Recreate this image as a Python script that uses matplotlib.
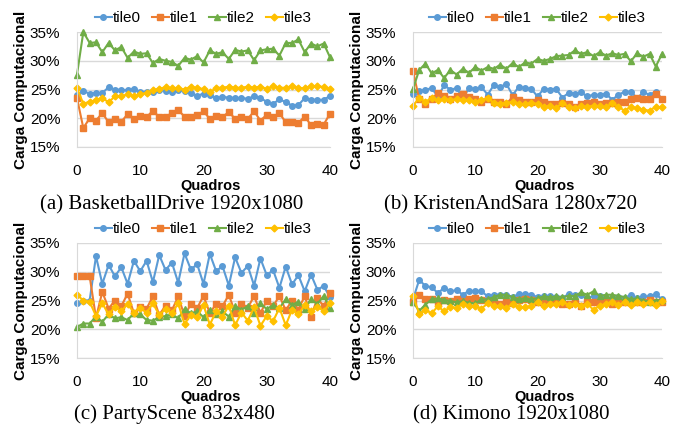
import matplotlib
matplotlib.use("Agg")
import matplotlib.pyplot as plt
from matplotlib.ticker import FuncFormatter

frames = list(range(41))
series_names = ["tile0", "tile1", "tile2", "tile3"]

# (a) BasketballDrive
bd_tile0 = [24.0, 24.7, 24.3, 24.4, 24.4, 25.4, 25.0, 24.9, 24.9, 25.1, 24.6, 24.6, 24.5, 24.9, 24.8,
            24.6, 24.9, 24.7, 24.4, 23.9, 24.3, 24.0, 23.5, 23.7, 23.6, 23.5, 23.5, 23.4, 23.8, 23.6,
            22.8, 22.5, 23.3, 22.8, 22.2, 22.3, 23.5, 23.2, 23.2, 23.2, 23.9]
bd_tile1 = [23.5, 18.3, 20.0, 19.6, 20.9, 19.3, 19.8, 19.4, 20.7, 19.9, 20.4, 20.2, 21.3, 20.2, 20.2,
            20.9, 21.4, 20.3, 20.3, 20.6, 21.2, 19.9, 20.4, 20.2, 21.1, 19.9, 20.3, 19.9, 21.2, 19.6,
            20.6, 20.2, 20.9, 19.3, 19.3, 19.2, 20.3, 18.8, 19.0, 18.9, 20.8]
bd_tile2 = [27.6, 35.0, 33.1, 33.2, 31.5, 33.1, 31.8, 32.4, 30.5, 31.6, 31.2, 31.3, 29.6, 30.3, 30.0,
            29.8, 29.1, 30.5, 30.2, 30.8, 29.7, 31.8, 31.2, 31.5, 30.3, 31.9, 31.6, 31.8, 30.1, 31.8,
            32.0, 32.1, 30.9, 33.1, 33.1, 33.7, 31.5, 33.0, 32.5, 33.0, 30.6]
bd_tile3 = [25.3, 22.5, 22.9, 23.1, 23.5, 22.8, 23.8, 23.8, 24.2, 23.8, 24.2, 24.4, 24.9, 25.1, 25.4,
            25.2, 25.2, 25.0, 25.5, 25.2, 25.1, 24.5, 25.3, 25.3, 25.5, 25.3, 25.3, 25.5, 25.3, 25.5,
            25.1, 25.6, 25.3, 25.3, 25.6, 25.3, 25.2, 25.6, 25.6, 25.4, 25.1]

# (b) KristenAndSara
ks_tile0 = [24.3, 24.7, 25.0, 25.2, 23.8, 25.7, 25.0, 25.2, 23.6, 25.2, 25.1, 25.4, 24.1, 25.8, 25.4,
            26.0, 24.0, 25.5, 25.2, 25.1, 23.8, 25.1, 25.0, 25.1, 23.6, 24.4, 24.3, 24.5, 23.8, 24.1,
            24.0, 24.3, 23.2, 24.1, 24.6, 24.6, 23.5, 24.5, 24.1, 24.6, 23.4]
ks_tile1 = [28.2, 23.3, 22.5, 23.4, 24.4, 23.9, 23.4, 23.9, 24.2, 23.7, 23.3, 22.9, 23.4, 22.8, 22.9,
            22.5, 23.7, 23.2, 22.9, 22.9, 23.2, 22.8, 22.4, 22.4, 22.7, 22.5, 21.9, 22.4, 22.7, 22.8,
            22.5, 22.7, 22.7, 22.8, 22.8, 23.4, 23.6, 23.3, 23.3, 24.3, 23.4]
ks_tile2 = [25.1, 28.4, 29.5, 27.8, 28.4, 27.0, 28.4, 27.6, 28.6, 27.9, 28.9, 28.3, 28.9, 28.6, 29.3,
            28.6, 29.6, 28.9, 29.7, 29.5, 30.3, 30.0, 30.3, 30.8, 30.9, 31.0, 31.8, 31.2, 31.5, 30.8,
            31.5, 30.9, 31.3, 31.0, 31.2, 29.9, 31.3, 30.7, 31.2, 29.0, 31.2]
ks_tile3 = [22.2, 23.5, 22.9, 23.5, 23.1, 23.3, 23.2, 23.3, 23.2, 23.2, 22.9, 23.2, 23.5, 22.7, 22.5,
            22.7, 22.8, 22.5, 22.4, 22.7, 22.5, 22.0, 22.2, 21.8, 22.7, 22.0, 21.8, 22.1, 22.0, 22.2,
            22.1, 21.9, 22.7, 22.0, 21.3, 22.0, 21.7, 21.5, 21.3, 22.0, 21.9]

# (c) PartyScene
ps_tile0 = [24.5, 25.0, 25.0, 32.7, 27.9, 31.2, 29.2, 30.8, 27.9, 31.9, 30.1, 31.9, 28.2, 32.9, 30.3,
            31.6, 28.1, 33.2, 30.4, 31.3, 27.9, 33.1, 30.1, 31.0, 27.6, 32.5, 29.8, 31.0, 27.6, 32.3,
            29.4, 30.3, 27.2, 30.9, 27.8, 29.4, 26.6, 29.5, 26.9, 27.5, 25.6]
ps_tile1 = [29.2, 29.2, 29.2, 22.0, 26.5, 23.6, 25.0, 24.0, 26.2, 22.8, 23.9, 23.6, 25.7, 22.5, 24.1,
            23.3, 25.7, 22.3, 24.4, 23.7, 25.8, 22.8, 24.4, 24.0, 26.0, 22.9, 24.4, 23.7, 25.8, 22.8,
            25.0, 24.0, 25.8, 23.3, 25.0, 23.4, 25.8, 22.2, 25.4, 24.0, 26.3]
ps_tile2 = [20.4, 21.0, 21.0, 22.2, 21.3, 22.6, 21.9, 22.1, 21.6, 22.8, 22.6, 21.6, 21.5, 22.1, 22.3,
            22.6, 21.9, 23.5, 22.8, 23.1, 22.1, 23.3, 22.6, 23.1, 22.2, 24.0, 23.4, 24.0, 22.8, 24.5,
            23.5, 24.2, 23.7, 25.2, 24.2, 24.8, 23.5, 25.2, 24.4, 25.8, 23.7]
ps_tile3 = [26.0, 25.0, 24.8, 22.3, 24.5, 22.6, 23.9, 23.1, 24.4, 22.9, 23.7, 22.9, 24.5, 22.5, 23.5,
            22.8, 24.5, 20.9, 22.5, 22.1, 24.2, 20.8, 23.1, 22.2, 24.1, 20.7, 22.9, 21.5, 23.8, 20.6,
            22.3, 21.4, 23.7, 20.7, 23.4, 22.6, 24.2, 23.1, 23.9, 23.2, 24.5]

# (d) Kimono
ki_tile0 = [25.2, 28.6, 27.5, 27.3, 26.3, 27.2, 26.6, 26.8, 26.0, 26.7, 26.6, 26.6, 25.7, 26.0, 26.0,
            26.0, 25.6, 26.1, 26.1, 26.0, 25.6, 25.7, 25.8, 25.6, 25.5, 26.1, 25.9, 26.0, 25.4, 25.8,
            25.7, 25.5, 25.4, 25.6, 25.4, 26.0, 25.4, 25.7, 25.7, 26.1, 25.2]
ki_tile1 = [24.7, 26.0, 25.3, 25.2, 24.8, 25.1, 25.0, 25.2, 25.0, 25.3, 25.5, 25.1, 25.0, 24.7, 24.4,
            24.7, 24.6, 25.1, 25.2, 25.1, 24.8, 24.9, 24.8, 24.7, 24.4, 24.4, 24.7, 24.1, 24.7, 24.8,
            24.8, 24.7, 24.4, 24.7, 24.8, 24.7, 24.7, 24.8, 25.1, 24.8, 24.7]
ki_tile2 = [24.7, 23.2, 24.3, 25.2, 25.4, 25.1, 24.9, 24.7, 24.9, 24.6, 24.5, 25.2, 25.2, 25.6, 26.0,
            26.0, 25.6, 25.2, 25.4, 25.2, 25.4, 25.7, 25.6, 25.7, 25.6, 25.8, 25.8, 26.4, 26.0, 26.6,
            25.8, 26.0, 26.0, 25.8, 25.6, 25.2, 25.4, 25.0, 24.8, 25.0, 25.1]
ki_tile3 = [25.8, 22.7, 23.3, 22.8, 24.0, 23.1, 23.9, 23.7, 24.4, 24.0, 24.0, 23.6, 24.5, 24.1, 24.0,
            23.7, 24.4, 23.9, 23.8, 24.0, 24.8, 24.1, 24.4, 24.4, 24.8, 24.2, 24.4, 24.0, 24.4, 23.4,
            24.1, 24.4, 24.8, 24.2, 24.7, 24.2, 24.7, 24.4, 24.7, 24.2, 25.0]

panels = [
    ("(a) BasketballDrive 1920x1080", [bd_tile0, bd_tile1, bd_tile2, bd_tile3]),
    ("(b) KristenAndSara 1280x720", [ks_tile0, ks_tile1, ks_tile2, ks_tile3]),
    ("(c) PartyScene 832x480", [ps_tile0, ps_tile1, ps_tile2, ps_tile3]),
    ("(d) Kimono 1920x1080", [ki_tile0, ki_tile1, ki_tile2, ki_tile3]),
]

colors = ["#5B9BD5", "#ED7D31", "#70AD47", "#FFC000"]
markers = ["o", "s", "^", "D"]
msizes = [4, 4, 4.5, 3.5]

plt.rcParams["font.family"] = ["Liberation Sans", "DejaVu Sans"]

W, H = 674, 426
fig = plt.figure(figsize=(W / 100, H / 100), dpi=100)

# axes boxes in pixels: left, top, right, bottom
boxes = [(77, 32, 330, 147), (413, 32, 662, 147), (77, 243, 330, 358), (413, 243, 662, 358)]
caption_pos = [(172, 209), (510, 209), (174, 419), (511, 419)]

for (title, data), (l, t, r, b), (cx, cy) in zip(panels, boxes, caption_pos):
    ax = fig.add_axes([l / W, 1 - b / H, (r - l) / W, (b - t) / H])
    for vals, name, c, m, ms in zip(data, series_names, colors, markers, msizes):
        ax.plot(frames, vals, color=c, marker=m, markersize=ms, linewidth=1.5,
                label=name, clip_on=False)
    ax.set_xlim(0, 40)
    ax.set_ylim(15, 35)
    ax.set_xticks([0, 10, 20, 30, 40])
    ax.set_yticks([15, 20, 25, 30, 35])
    ax.yaxis.set_major_formatter(FuncFormatter(lambda v, p: f"{v:.0f}%"))
    ax.grid(axis="y", color="#D9D9D9", linewidth=1)
    ax.set_axisbelow(True)
    for s in ["top", "right"]:
        ax.spines[s].set_visible(False)
    ax.spines["left"].set_color("#D9D9D9")
    ax.spines["bottom"].set_color("#D9D9D9")
    ax.tick_params(length=0, labelsize=11, colors="#000000")
    ax.tick_params(axis="y", pad=12)
    ax.tick_params(axis="x", pad=12)
    ax.set_xlabel("Quadros", fontsize=10.5, fontweight="bold", va="center")
    ax.xaxis.set_label_coords(0.5 + 7 / (r - l), -39 / (b - t))
    ax.set_ylabel("Carga Computacional", fontsize=11, fontweight="bold", labelpad=1)
    ax.legend(loc="lower center", bbox_to_anchor=(0.5, 0.98), ncol=4, frameon=False,
              fontsize=11, handlelength=1.1, handletextpad=0.1, columnspacing=0.7,
              borderaxespad=0.2)
    fig.text(cx / W, 1 - cy / H, title, ha="center", va="baseline", fontsize=15,
             family="Liberation Serif")

fig.savefig("out.png", dpi=100)
